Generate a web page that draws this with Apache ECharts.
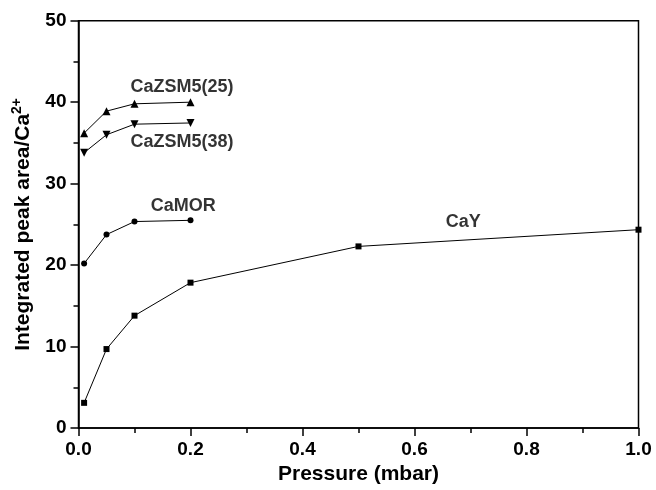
<!DOCTYPE html>
<html>
<head>
<meta charset="utf-8">
<script src="https://cdn.jsdelivr.net/npm/echarts@6/dist/echarts.min.js"></script>
<style>
  body { margin: 0; background: #fff; }
  #main { width: 656px; height: 490px; }
</style>
</head>
<body>
<div id="main"></div>
<script>
// pressure (mbar) vs integrated peak area / Ca2+
var pressY = [0.01, 0.05, 0.1, 0.2, 0.5, 1.0];
var caY = [3.1, 9.7, 13.8, 17.85, 22.3, 24.35];

var pressShort = [0.01, 0.05, 0.1, 0.2];
var caMOR = [20.2, 23.75, 25.35, 25.5];
var caZSM25 = [36.2, 38.9, 39.8, 40.0];
var caZSM38 = [33.8, 36.0, 37.3, 37.45];

// label anchors (data coords)
var labelNames = ['CaZSM5(25)', 'CaZSM5(38)', 'CaMOR', 'CaY'];
var labelX = [0.185, 0.185, 0.187, 0.687];
var labelY = [41.8, 35.1, 27.3, 25.3];

var FONT = '"Liberation Sans", Arial, Helvetica, sans-serif';

function pairs(xs, ys) {
    var out = [];
    for (var i = 0; i < xs.length; i++) out.push([xs[i], ys[i]]);
    return out;
}

function lineSeries(name, xs, ys, symbol, size, rotate) {
    return {
        name: name,
        type: 'line',
        data: pairs(xs, ys),
        symbol: symbol,
        symbolSize: size,
        symbolRotate: rotate || 0,
        showAllSymbol: true,
        lineStyle: { color: '#000', width: 1 },
        itemStyle: { color: '#000' },
        animation: false
    };
}

var series = [
    lineSeries('CaY', pressY, caY, 'rect', 6),
    lineSeries('CaMOR', pressShort, caMOR, 'circle', 6),
    lineSeries('CaZSM5(25)', pressShort, caZSM25, 'triangle', 8),
    lineSeries('CaZSM5(38)', pressShort, caZSM38, 'triangle', 8, 180)
];

// text labels placed in data space
var labelData = [];
for (var i = 0; i < labelNames.length; i++) {
    labelData.push([labelX[i], labelY[i], labelNames[i]]);
}
series.push({
    type: 'scatter',
    data: labelData,
    symbolSize: 0,
    silent: true,
    animation: false,
    label: {
        show: true,
        position: 'inside',
        formatter: function (p) { return p.value[2]; },
        color: '#000',
        fontFamily: FONT,
        fontWeight: 'bold',
        fontSize: 18
    }
});

var myChart = echarts.init(document.getElementById('main'));
myChart.setOption({
    backgroundColor: '#fff',
    grid: {
        left: 78.5, right: 17.5, top: 20.7, bottom: 54.4,
        show: true, borderColor: '#000', borderWidth: 1.5,
        containLabel: false
    },
    xAxis: {
        type: 'value',
        min: 0, max: 1, interval: 0.2,
        name: 'Pressure (mbar)',
        nameLocation: 'middle',
        nameGap: 33,
        nameTextStyle: { fontFamily: FONT, fontWeight: 'bold', fontSize: 21, color: '#000' },
        axisLine: { lineStyle: { color: '#000', width: 1.5 } },
        axisTick: { inside: false, length: 8, lineStyle: { color: '#000', width: 1.5 } },
        minorTick: { show: true, splitNumber: 2, length: 5, lineStyle: { color: '#000', width: 1.5 } },
        splitLine: { show: false },
        axisLabel: {
            fontFamily: FONT, fontWeight: 'bold', fontSize: 19, color: '#000', margin: 12,
            formatter: function (v) { return v.toFixed(1); }
        }
    },
    yAxis: {
        type: 'value',
        min: 0, max: 50, interval: 10,
        name: 'Integrated peak area/Ca{sup|2+}',
        nameLocation: 'middle',
        nameGap: 42,
        nameTextStyle: {
            fontFamily: FONT, fontWeight: 'bold', fontSize: 21, color: '#000',
            rich: {
                sup: { fontFamily: FONT, fontWeight: 'bold', fontSize: 14, color: '#000', verticalAlign: 'top', padding: [0, 0, 12, 0] }
            }
        },
        axisLine: { lineStyle: { color: '#000', width: 1.5 } },
        axisTick: { inside: false, length: 8, lineStyle: { color: '#000', width: 1.5 } },
        minorTick: { show: true, splitNumber: 2, length: 5, lineStyle: { color: '#000', width: 1.5 } },
        splitLine: { show: false },
        axisLabel: { fontFamily: FONT, fontWeight: 'bold', fontSize: 19, color: '#000', margin: 12 }
    },
    series: series
});
</script>
</body>
</html>
